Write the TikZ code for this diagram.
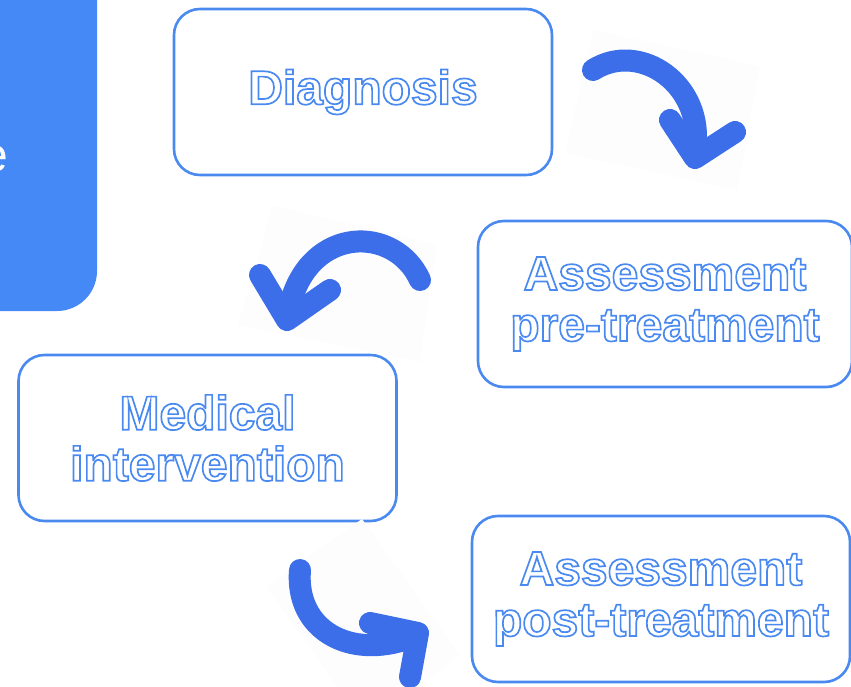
\documentclass[tikz,border=0pt]{standalone}
\usepackage{fontspec}
\setmainfont{Liberation Sans}
\usetikzlibrary{positioning}
\definecolor{boxblue}{RGB}{74, 138, 240}
\definecolor{panelblue}{RGB}{68, 137, 245}
\definecolor{arrowblue}{RGB}{59, 110, 232}
\definecolor{paper}{RGB}{253, 253, 253}
\newcommand{\hollow}[1]{{\color{boxblue}\special{pdf:literal direct 1 Tr 1.7 w}#1\special{pdf:literal direct 0 Tr}}}
\tikzstyle{stage}=[rectangle, rounded corners=26pt, draw=boxblue, line width=2.6pt, minimum width=378pt, minimum height=166pt, align=center, font=\fontsize{48}{51}\selectfont\bfseries]
\tikzstyle{curl}=[draw=arrowblue, line width=22pt, line cap=round, line join=round]
\tikzstyle{backing}=[fill=paper]

\begin{document}
\begin{tikzpicture}[x=1pt, y=-1pt]
      %
      \useasboundingbox (0,0) rectangle (851,687);
      %
      % side panel
      %
      \fill[panelblue, rounded corners=40pt] (-80,-60) rectangle (97,311);
      \node[anchor=base east, text=white, inner sep=0pt, font=\fontsize{48}{50}\selectfont] (tail) at (8,172) {e};
      %
      % stages
      %
      \node[stage] (diagnosis) at (363,92) {\hollow{Diagnosis}};
      \node[stage, minimum width=374pt] (pre) at (665,304) {\hollow{Assessment}\\\hollow{pre-treatment}};
      \node[stage] (medical) at (207.5,438) {\hollow{Medical}\\\hollow{intervention}};
      \node[stage] (post) at (661,599) {\hollow{Assessment}\\\hollow{post-treatment}};
      %
      % Diagnosis --> Assessment pre-treatment
      %
      \fill[backing] (593,30) -- (760,66) -- (737,190) -- (565,153) -- cycle;
      \path[curl] (593,70) .. controls (640,40) and (705,85) .. (695,150);
      \path[curl] (670,120) -- (695,158) -- (735,132);
      %
      % Assessment pre-treatment --> Medical intervention
      %
      \fill[backing] (273,205) -- (437,245) -- (420,362) -- (238,325) -- cycle;
      \path[curl] (420,280) .. controls (395,225) and (310,225) .. (290,305);
      \path[curl] (260,275) -- (287,320) -- (330,290);
      %
      % Medical intervention --> Assessment post-treatment
      %
      \fill[backing] (362,519) -- (460,655) -- (365,725) -- (266,586) -- cycle;
      \path[curl] (300,570) .. controls (295,630) and (350,660) .. (410,638);
      \path[curl] (370,623) -- (418,633) -- (410,677);
      %
\end{tikzpicture}
\end{document}
